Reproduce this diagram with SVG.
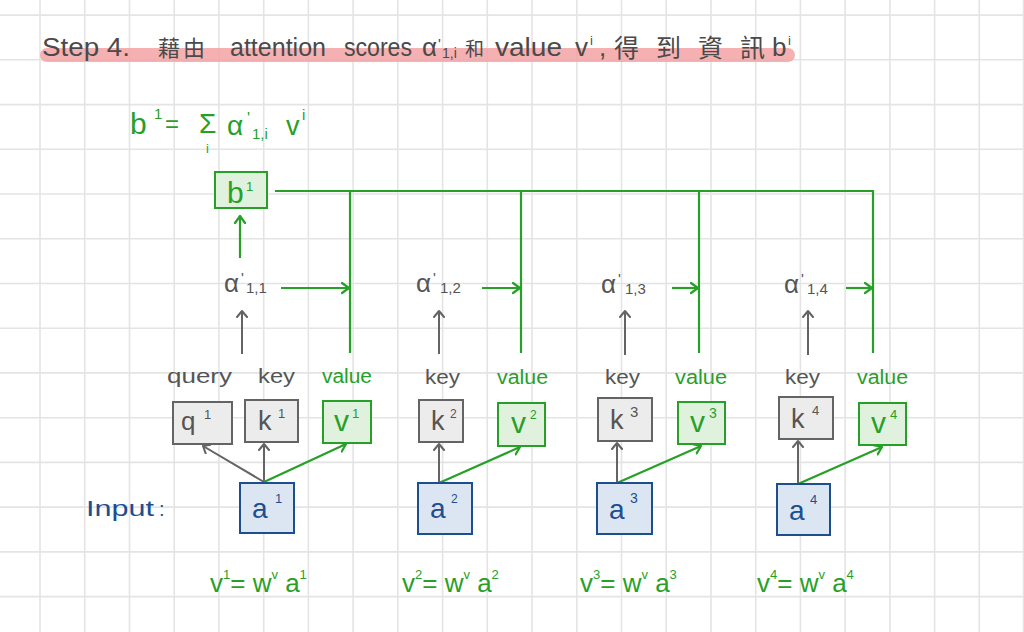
<svg xmlns="http://www.w3.org/2000/svg" width="1024" height="632" viewBox="0 0 1024 632">
<defs>
<style>
.grid line{stroke:#e4e4e4;stroke-width:1.6}
.gl{stroke:#646464;stroke-width:2;fill:none}
.gn{stroke:#27a027;stroke-width:2.2;fill:none}
.bxg{fill:#ececec;stroke:#646464;stroke-width:2}
.bxn{fill:#e0f1dd;stroke:#27a027;stroke-width:2}
.bxb{fill:#dce6f2;stroke:#1d4f8f;stroke-width:2}
text{font-family:"Liberation Sans","Noto Sans CJK TC",sans-serif}
.tg{fill:#555555}
.tn{fill:#27a027}
.tb{fill:#1d4f8f}
.tt{fill:#4a4a4a}
</style>
<marker id="ag" markerUnits="userSpaceOnUse" markerWidth="14" markerHeight="14" refX="7" refY="6" orient="auto">
<path d="M1,1 L7,6 L1,11" fill="none" stroke="#646464" stroke-width="2" stroke-linecap="round" stroke-linejoin="round"/>
</marker>
<marker id="an" markerUnits="userSpaceOnUse" markerWidth="14" markerHeight="14" refX="8" refY="6" orient="auto">
<path d="M1,1 L8,6 L1,11" fill="none" stroke="#27a027" stroke-width="2.2" stroke-linecap="round" stroke-linejoin="round"/>
</marker>
</defs>
<rect width="1024" height="632" fill="#ffffff"/>
<g class="grid">
<line x1="40" y1="0" x2="40" y2="632"/><line x1="84.7" y1="0" x2="84.7" y2="632"/><line x1="129.5" y1="0" x2="129.5" y2="632"/><line x1="174.2" y1="0" x2="174.2" y2="632"/><line x1="218.9" y1="0" x2="218.9" y2="632"/><line x1="263.7" y1="0" x2="263.7" y2="632"/><line x1="308.4" y1="0" x2="308.4" y2="632"/><line x1="353.1" y1="0" x2="353.1" y2="632"/><line x1="397.8" y1="0" x2="397.8" y2="632"/><line x1="442.6" y1="0" x2="442.6" y2="632"/><line x1="487.3" y1="0" x2="487.3" y2="632"/><line x1="532" y1="0" x2="532" y2="632"/><line x1="576.8" y1="0" x2="576.8" y2="632"/><line x1="621.5" y1="0" x2="621.5" y2="632"/><line x1="666.2" y1="0" x2="666.2" y2="632"/><line x1="711" y1="0" x2="711" y2="632"/><line x1="755.7" y1="0" x2="755.7" y2="632"/><line x1="800.4" y1="0" x2="800.4" y2="632"/><line x1="845.1" y1="0" x2="845.1" y2="632"/><line x1="889.9" y1="0" x2="889.9" y2="632"/><line x1="934.6" y1="0" x2="934.6" y2="632"/><line x1="979.3" y1="0" x2="979.3" y2="632"/><line x1="1023.5" y1="0" x2="1023.5" y2="632"/>
<line x1="0" y1="15.1" x2="1024" y2="15.1"/><line x1="0" y1="59.8" x2="1024" y2="59.8"/><line x1="0" y1="104.6" x2="1024" y2="104.6"/><line x1="0" y1="149.3" x2="1024" y2="149.3"/><line x1="0" y1="194" x2="1024" y2="194"/><line x1="0" y1="238.8" x2="1024" y2="238.8"/><line x1="0" y1="283.5" x2="1024" y2="283.5"/><line x1="0" y1="328.2" x2="1024" y2="328.2"/><line x1="0" y1="372.9" x2="1024" y2="372.9"/><line x1="0" y1="417.7" x2="1024" y2="417.7"/><line x1="0" y1="462.4" x2="1024" y2="462.4"/><line x1="0" y1="507.1" x2="1024" y2="507.1"/><line x1="0" y1="551.9" x2="1024" y2="551.9"/><line x1="0" y1="596.6" x2="1024" y2="596.6"/>
</g>
<g id="title" font-size="26">
<line x1="47" y1="55" x2="788" y2="55" stroke="#f3a3a3" stroke-opacity="0.85" stroke-width="14" stroke-linecap="round"/>
<text class="tt" x="42" y="56" textLength="88" lengthAdjust="spacingAndGlyphs">Step 4.</text>
<text class="tt" x="158" y="56" font-size="22" textLength="47" lengthAdjust="spacing">藉由</text>
<text class="tt" x="230" y="56" textLength="96" lengthAdjust="spacingAndGlyphs">attention</text>
<text class="tt" x="344" y="56" textLength="68" lengthAdjust="spacingAndGlyphs">scores</text>
<text class="tt" x="422" y="56">α</text>
<text class="tt" x="438" y="49" font-size="15">'</text>
<text class="tt" x="442" y="58" font-size="14">1,i</text>
<text class="tt" x="465" y="56" font-size="19">和</text>
<text class="tt" x="495" y="56" textLength="67" lengthAdjust="spacingAndGlyphs">value</text>
<text class="tt" x="575" y="56">v</text>
<text class="tt" x="590" y="45" font-size="13">i</text>
<text class="tt" x="599" y="56">,</text>
<text class="tt" x="614" y="57" font-size="25" textLength="151" lengthAdjust="spacing">得到資訊</text>
<text class="tt" x="772" y="56">b</text>
<text class="tt" x="788" y="45" font-size="13">i</text>
</g>
<g id="formula" class="tn">
<text x="130" y="134" font-size="30">b</text>
<text x="154" y="119" font-size="15">1</text>
<text x="165" y="132" font-size="24">=</text>
<text x="199" y="133" font-size="28">Σ</text>
<text x="206" y="153" font-size="13">i</text>
<text x="227" y="135" font-size="28">α</text>
<text x="247" y="124" font-size="16">'</text>
<text x="252" y="139" font-size="15">1,i</text>
<text x="286" y="135" font-size="27">v</text>
<text x="302" y="120" font-size="15">i</text>
</g>
<g id="connectors">
<path class="gn" d="M275,191 H873 V353"/>
<path class="gn" d="M350,191 V353"/>
<path class="gn" d="M521,191 V353"/>
<path class="gn" d="M699,191 V353"/>
<path class="gn" d="M281,288 H349" marker-end="url(#an)"/>
<path class="gn" d="M482,288 H520" marker-end="url(#an)"/>
<path class="gn" d="M672,288 H698" marker-end="url(#an)"/>
<path class="gn" d="M846,288 H872" marker-end="url(#an)"/>
<path class="gn" d="M240,258 V216" marker-end="url(#an)"/>
<path class="gl" d="M242,354 V311" marker-end="url(#ag)"/>
<path class="gl" d="M439,354 V311" marker-end="url(#ag)"/>
<path class="gl" d="M625,355 V311" marker-end="url(#ag)"/>
<path class="gl" d="M808,355 V311" marker-end="url(#ag)"/>
<path class="gl" d="M264,482 L203,446" marker-end="url(#ag)"/>
<path class="gl" d="M264,482 V444" marker-end="url(#ag)"/>
<path class="gn" d="M264,482 L346,444" marker-end="url(#an)"/>
<path class="gl" d="M439,483 V444" marker-end="url(#ag)"/>
<path class="gn" d="M439,483 L520,447" marker-end="url(#an)"/>
<path class="gl" d="M617,483 V443" marker-end="url(#ag)"/>
<path class="gn" d="M617,483 L701,446" marker-end="url(#an)"/>
<path class="gl" d="M798,484 V441" marker-end="url(#ag)"/>
<path class="gn" d="M798,484 L882,447" marker-end="url(#an)"/>
</g>
<g id="b1">
<rect class="bxn" x="215" y="172" width="52" height="36"/>
<text class="tn" x="227" y="203" font-size="30">b</text>
<text class="tn" x="246" y="191" font-size="13">1</text>
</g>
<g id="alpha11" class="tg">
<text x="224" y="292" font-size="26">α</text>
<text x="241" y="283" font-size="15">'</text>
<text x="246" y="293" font-size="15">1,1</text>
</g>
<g id="alpha12" class="tg">
<text x="416" y="292" font-size="26">α</text>
<text x="433" y="283" font-size="15">'</text>
<text x="440" y="293" font-size="15">1,2</text>
</g>
<g id="alpha13" class="tg">
<text x="601" y="293" font-size="26">α</text>
<text x="618" y="284" font-size="15">'</text>
<text x="625" y="294" font-size="15">1,3</text>
</g>
<g id="alpha14" class="tg">
<text x="784" y="293" font-size="26">α</text>
<text x="801" y="284" font-size="15">'</text>
<text x="807" y="294" font-size="15">1,4</text>
</g>
<g id="labels" font-size="20">
<text class="tg" x="167" y="383" textLength="65" lengthAdjust="spacingAndGlyphs">query</text>
<text class="tg" x="258" y="383" textLength="37" lengthAdjust="spacingAndGlyphs">key</text>
<text class="tn" x="322" y="383" textLength="50" lengthAdjust="spacingAndGlyphs">value</text>
<text class="tg" x="425" y="384" textLength="35" lengthAdjust="spacingAndGlyphs">key</text>
<text class="tn" x="497" y="384" textLength="51" lengthAdjust="spacingAndGlyphs">value</text>
<text class="tg" x="605" y="384" textLength="35" lengthAdjust="spacingAndGlyphs">key</text>
<text class="tn" x="675" y="384" textLength="52" lengthAdjust="spacingAndGlyphs">value</text>
<text class="tg" x="785" y="384" textLength="35" lengthAdjust="spacingAndGlyphs">key</text>
<text class="tn" x="857" y="384" textLength="51" lengthAdjust="spacingAndGlyphs">value</text>
</g>
<g id="q1">
<rect class="bxg" x="173" y="402" width="59" height="42"/>
<text class="tg" x="181" y="430" font-size="26">q</text>
<text class="tg" x="204" y="419" font-size="13">1</text>
</g>
<g id="k1">
<rect class="bxg" x="245" y="400" width="53" height="42"/>
<text class="tg" x="258" y="430" font-size="27">k</text>
<text class="tg" x="278" y="418" font-size="13">1</text>
</g>
<g id="v1">
<rect class="bxn" x="323" y="401" width="48" height="42"/>
<text class="tn" x="334" y="431" font-size="30">v</text>
<text class="tn" x="352" y="418" font-size="13">1</text>
</g>
<g id="k2">
<rect class="bxg" x="419" y="400" width="44" height="42"/>
<text class="tg" x="431" y="430" font-size="27">k</text>
<text class="tg" x="450" y="418" font-size="12">2</text>
</g>
<g id="v2">
<rect class="bxn" x="498" y="403" width="47" height="43"/>
<text class="tn" x="511" y="433" font-size="30">v</text>
<text class="tn" x="530" y="419" font-size="12">2</text>
</g>
<g id="k3">
<rect class="bxg" x="598" y="398" width="54" height="43"/>
<text class="tg" x="610" y="429" font-size="27">k</text>
<text class="tg" x="630" y="417" font-size="15">3</text>
</g>
<g id="v3">
<rect class="bxn" x="678" y="402" width="47" height="42"/>
<text class="tn" x="690" y="432" font-size="30">v</text>
<text class="tn" x="709" y="418" font-size="14">3</text>
</g>
<g id="k4">
<rect class="bxg" x="779" y="397" width="54" height="42"/>
<text class="tg" x="791" y="428" font-size="27">k</text>
<text class="tg" x="812" y="415" font-size="13">4</text>
</g>
<g id="v4">
<rect class="bxn" x="859" y="403" width="47" height="42"/>
<text class="tn" x="871" y="433" font-size="30">v</text>
<text class="tn" x="890" y="419" font-size="13">4</text>
</g>
<g id="a1">
<rect class="bxb" x="240" y="483" width="54" height="50"/>
<text class="tb" x="252" y="518" font-size="28">a</text>
<text class="tb" x="275" y="503" font-size="13">1</text>
</g>
<g id="a2">
<rect class="bxb" x="418" y="483" width="54" height="51"/>
<text class="tb" x="430" y="518" font-size="28">a</text>
<text class="tb" x="451" y="503" font-size="12">2</text>
</g>
<g id="a3">
<rect class="bxb" x="597" y="483" width="55" height="51"/>
<text class="tb" x="609" y="519" font-size="28">a</text>
<text class="tb" x="630" y="503" font-size="14">3</text>
</g>
<g id="a4">
<rect class="bxb" x="777" y="484" width="53" height="51"/>
<text class="tb" x="789" y="520" font-size="28">a</text>
<text class="tb" x="810" y="504" font-size="13">4</text>
</g>
<g id="input">
<text class="tb" x="86" y="516" font-size="22" textLength="68" lengthAdjust="spacingAndGlyphs">Input</text>
<text class="tb" x="159" y="516" font-size="20">:</text>
</g>
<g id="eqs" class="tn" font-size="26">
<text x="210" y="592">v<tspan font-size="13" dy="-13">1</tspan><tspan dy="13">= w</tspan><tspan font-size="13" dy="-13">v</tspan><tspan dy="13"> a</tspan><tspan font-size="13" dy="-13">1</tspan></text>
<text x="402" y="592">v<tspan font-size="13" dy="-13">2</tspan><tspan dy="13">= w</tspan><tspan font-size="13" dy="-13">v</tspan><tspan dy="13"> a</tspan><tspan font-size="13" dy="-13">2</tspan></text>
<text x="580" y="592">v<tspan font-size="13" dy="-13">3</tspan><tspan dy="13">= w</tspan><tspan font-size="13" dy="-13">v</tspan><tspan dy="13"> a</tspan><tspan font-size="13" dy="-13">3</tspan></text>
<text x="757" y="592">v<tspan font-size="13" dy="-13">4</tspan><tspan dy="13">= w</tspan><tspan font-size="13" dy="-13">v</tspan><tspan dy="13"> a</tspan><tspan font-size="13" dy="-13">4</tspan></text>
</g>
</svg>
